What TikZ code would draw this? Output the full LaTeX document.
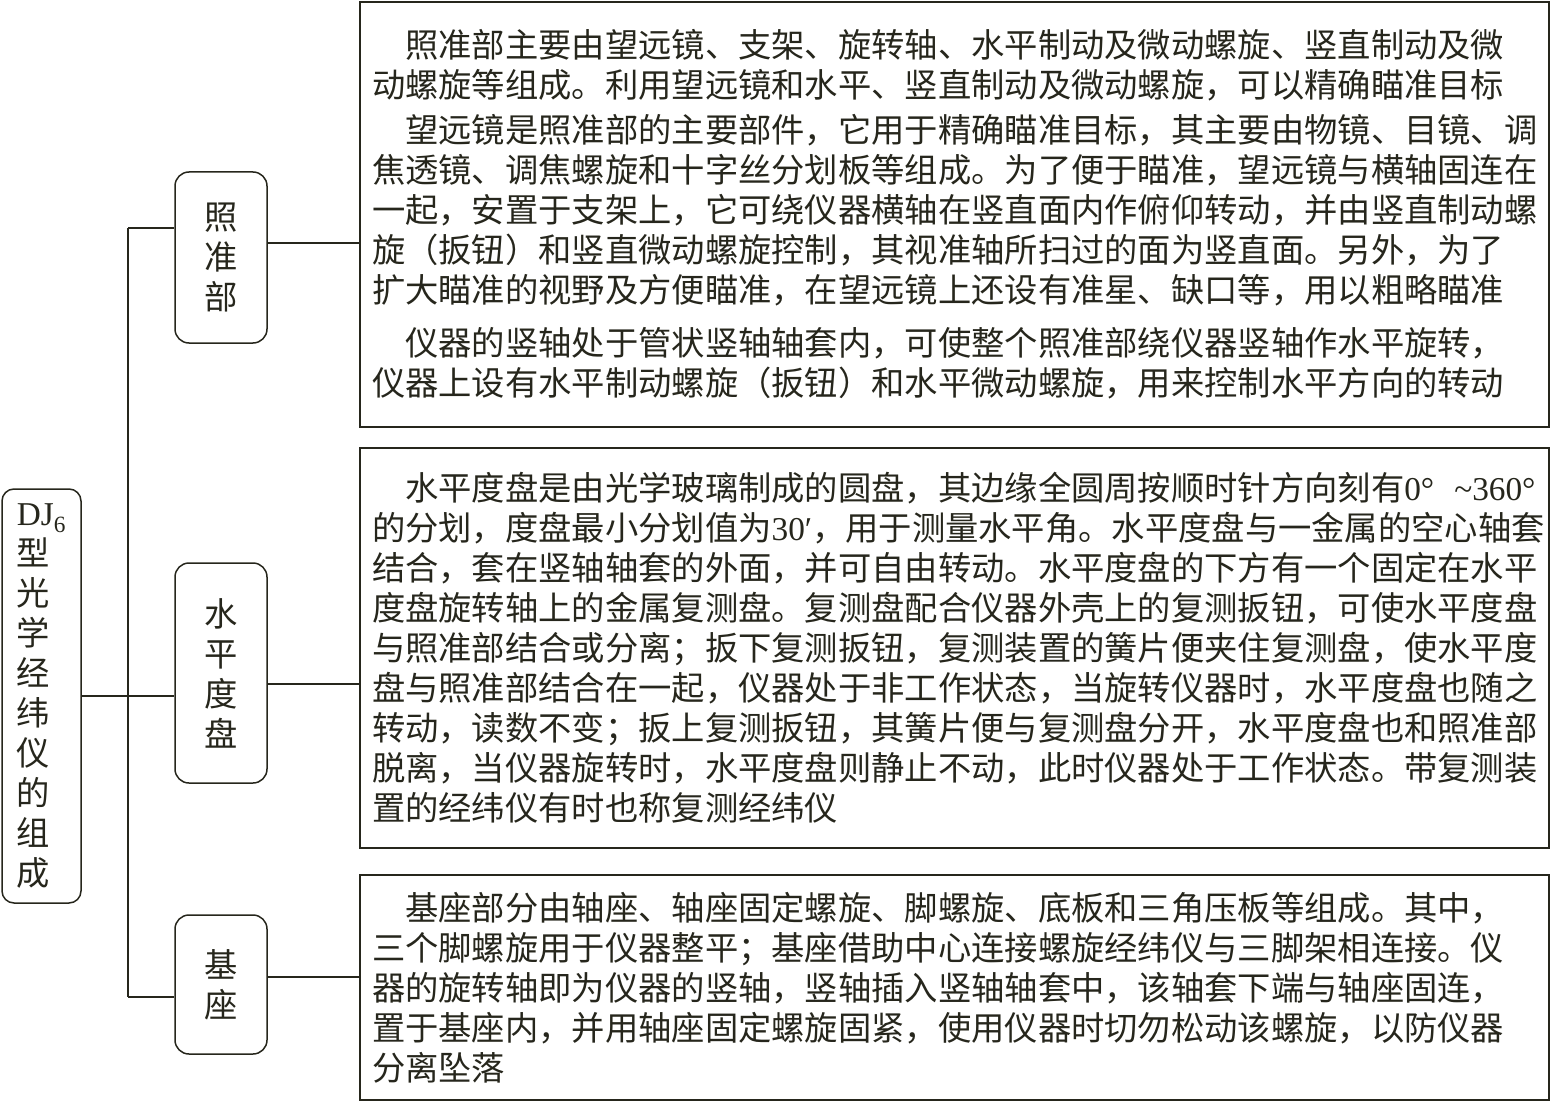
\documentclass[tikz,border=0pt]{standalone}
\usepackage{fontspec}
\setmainfont{Liberation Serif}
\newfontfamily\cjk{Noto Sans CJK SC}
\newcommand\lat[1]{{\rmfamily #1}}
\definecolor{ink}{RGB}{38,38,28}

\begin{document}
\begin{tikzpicture}[x=1pt, y=-1pt, line width=1.5pt, color=ink,
    font=\cjk\fontsize{33.3pt}{40pt}\selectfont,
    rootbox/.style={draw, rounded corners=12pt, minimum width=79pt, minimum height=414pt, inner sep=0pt, align=left},
    partbox/.style={draw, rounded corners=14pt, minimum width=92pt, inner sep=0pt, align=center},
    notebox/.style={draw, text width=1165pt, inner xsep=12pt, inner ysep=0pt, align=left}]
    \useasboundingbox (0,0) rectangle (1553,1102);

    \node[rootbox] (root) at (41.5,696) {\lat{DJ\textsubscript{6}}\\型\\光\\学\\经\\纬\\仪\\的\\组\\成};

    \node[partbox, minimum height=171pt] (zhun) at (221,257.5) {照\\准\\部};
    \node[partbox, minimum height=220pt] (shui) at (221,673) {水\\平\\度\\盘};
    \node[partbox, minimum height=139pt] (ji) at (221,984.5) {基\\座};

    \node[notebox, minimum height=425pt] (zhunNote) at (954.5,214.5) {%
        \hspace*{1em}照准部主要由望远镜、支架、旋转轴、水平制动及微动螺旋、竖直制动及微\\
        动螺旋等组成。利用望远镜和水平、竖直制动及微动螺旋，可以精确瞄准目标\\[5pt]
        \hspace*{1em}望远镜是照准部的主要部件，它用于精确瞄准目标，其主要由物镜、目镜、调\\
        焦透镜、调焦螺旋和十字丝分划板等组成。为了便于瞄准，望远镜与横轴固连在\\
        一起，安置于支架上，它可绕仪器横轴在竖直面内作俯仰转动，并由竖直制动螺\\
        旋（扳钮）和竖直微动螺旋控制，其视准轴所扫过的面为竖直面。另外，为了\\
        扩大瞄准的视野及方便瞄准，在望远镜上还设有准星、缺口等，用以粗略瞄准\\[13pt]
        \hspace*{1em}仪器的竖轴处于管状竖轴轴套内，可使整个照准部绕仪器竖轴作水平旋转，\\
        仪器上设有水平制动螺旋（扳钮）和水平微动螺旋，用来控制水平方向的转动};
    \node[notebox, minimum height=400pt] (shuiNote) at (954.5,648) {%
        \hspace*{1em}水平度盘是由光学玻璃制成的圆盘，其边缘全圆周按顺时针方向刻有\lat{0°\hspace{0.6em}\textasciitilde360°}\\
        的分划，度盘最小分划值为\lat{30′}，用于测量水平角。水平度盘与一金属的空心轴套\\
        结合，套在竖轴轴套的外面，并可自由转动。水平度盘的下方有一个固定在水平\\
        度盘旋转轴上的金属复测盘。复测盘配合仪器外壳上的复测扳钮，可使水平度盘\\
        与照准部结合或分离；扳下复测扳钮，复测装置的簧片便夹住复测盘，使水平度\\
        盘与照准部结合在一起，仪器处于非工作状态，当旋转仪器时，水平度盘也随之\\
        转动，读数不变；扳上复测扳钮，其簧片便与复测盘分开，水平度盘也和照准部\\
        脱离，当仪器旋转时，水平度盘则静止不动，此时仪器处于工作状态。带复测装\\
        置的经纬仪有时也称复测经纬仪};
    \node[notebox, minimum height=225pt] (jiNote) at (954.5,987.5) {%
        \hspace*{1em}基座部分由轴座、轴座固定螺旋、脚螺旋、底板和三角压板等组成。其中，\\
        三个脚螺旋用于仪器整平；基座借助中心连接螺旋经纬仪与三脚架相连接。仪\\
        器的旋转轴即为仪器的竖轴，竖轴插入竖轴轴套中，该轴套下端与轴座固连，\\
        置于基座内，并用轴座固定螺旋固紧，使用仪器时切勿松动该螺旋，以防仪器\\
        分离坠落};

    \coordinate (top) at (128,228);
    \coordinate (mid) at (128,696);
    \coordinate (bot) at (128,997);
    \draw (top) -- (bot);
    \draw (root.east) -- (mid);
    \draw (top) -- (top -| zhun.west);
    \draw (mid) -- (mid -| shui.west);
    \draw (bot) -- (bot -| ji.west);

    \coordinate (r1) at (300,243);
    \coordinate (r2) at (300,684);
    \coordinate (r3) at (300,977);
    \draw (r1 -| zhun.east) -- (r1 -| zhunNote.west);
    \draw (r2 -| shui.east) -- (r2 -| shuiNote.west);
    \draw (r3 -| ji.east) -- (r3 -| jiNote.west);
\end{tikzpicture}
\end{document}
